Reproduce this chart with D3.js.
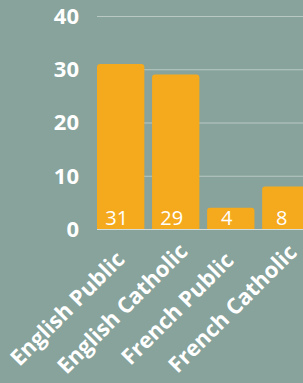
<!DOCTYPE html>
<head>
    <meta charset="utf-8" />
    <script src="https://d3js.org/d3.v7.min.js"></script>
    <style>
        body {
            margin: 0;
            background: #87a39b;
        }
        text {
            font-family: "Open Sans", sans-serif;
            fill: #fff;
        }
    </style>
</head>

<body>
    <script>
        var categories = ["English Public", "English Catholic", "French Public", "French Catholic"];
        var values = [31, 29, 4, 8];
        var yTicks = [0, 10, 20, 30, 40];

        var width = 303,
            height = 383;

        var svg = d3.select("body")
            .append("svg")
            .attr("width", width)
            .attr("height", height);

        var x = d3.scaleBand()
            .domain(categories)
            .range([97, 309.5])
            .paddingInner(0.14)
            .paddingOuter(0);

        var y = d3.scaleLinear()
            .domain([0, 40])
            .range([229, 16]);

        // grid lines
        svg.append("g").selectAll("line")
            .data(yTicks.filter(d => d > 0))
            .join("line")
            .attr("x1", 97)
            .attr("x2", width)
            .attr("y1", d => y(d) + 0.5)
            .attr("y2", d => y(d) + 0.5)
            .attr("stroke", "#b9c8c3")
            .attr("stroke-width", 1);

        // y tick labels
        svg.append("g").selectAll("text")
            .data(yTicks)
            .join("text")
            .attr("x", 79)
            .attr("y", d => y(d))
            .attr("dy", "0.36em")
            .attr("text-anchor", "end")
            .style("font-size", "22px")
            .style("font-weight", "bold")
            .text(d => d);

        // bars
        svg.append("g").selectAll("path")
            .data(values)
            .join("path")
            .attr("fill", "#f5a91d")
            .attr("d", function (d, i) {
                var x0 = x(categories[i]), w = x.bandwidth();
                var y0 = y(d), y1 = y(0), r = 3;
                return "M" + x0 + "," + y1 +
                    "V" + (y0 + r) +
                    "Q" + x0 + "," + y0 + " " + (x0 + r) + "," + y0 +
                    "H" + (x0 + w - r) +
                    "Q" + (x0 + w) + "," + y0 + " " + (x0 + w) + "," + (y0 + r) +
                    "V" + y1 + "Z";
            });

        // baseline
        svg.append("line")
            .attr("x1", 97)
            .attr("x2", width)
            .attr("y1", y(0) + 0.5)
            .attr("y2", y(0) + 0.5)
            .attr("stroke", "#d3dcd8")
            .attr("stroke-width", 1);

        // value labels inside bars
        svg.append("g").selectAll("text")
            .data(values)
            .join("text")
            .attr("x", (d, i) => x(categories[i]) + x.bandwidth() / 2 - 4)
            .attr("y", y(0) - 4)
            .attr("text-anchor", "middle")
            .style("font-size", "20px")
            .text(d => d);

        // rotated category labels
        svg.append("g").selectAll("text")
            .data(categories)
            .join("text")
            .attr("transform", d => "translate(" + (x(d) + x.bandwidth() / 2 - 48) + ",314) rotate(-45)")
            .attr("text-anchor", "middle")
            .style("font-size", "22px")
            .style("font-weight", "bold")
            .text(d => d);
    </script>
</body>
